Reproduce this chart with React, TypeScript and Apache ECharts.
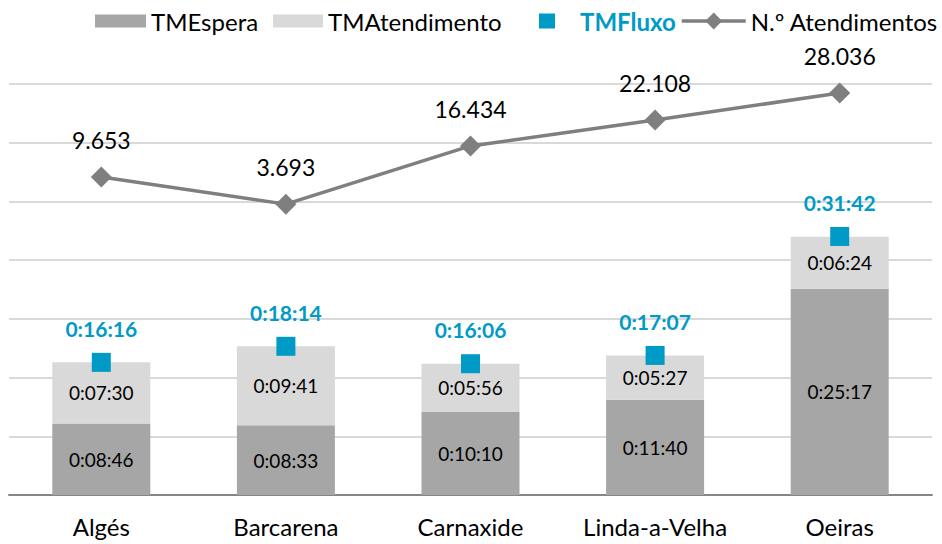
import React, { useEffect, useRef } from "react";
import * as echarts from "echarts";

const categories = ["Algés", "Barcarena", "Carnaxide", "Linda-a-Velha", "Oeiras"];
// seconds
const tmEspera = [526, 513, 610, 700, 1517];
const tmAtendimento = [450, 581, 356, 327, 384];
const tmFluxo = [976, 1094, 966, 1027, 1902];
const nAtendimentos = [9653, 3693, 16434, 22108, 28036];

const FONT = "Lato";
const BLUE = "#009ac6";

const pad = (n: number) => (n < 10 ? "0" + n : "" + n);
const fmtTime = (s: number) =>
  `${Math.floor(s / 3600)}:${pad(Math.floor((s % 3600) / 60))}:${pad(s % 60)}`;
const fmtNum = (n: number) => String(n).replace(/\B(?=(\d{3})+(?!\d))/g, ".");

export default function App() {
  const ref = useRef<HTMLDivElement>(null);
  useEffect(() => {
    const chart = echarts.init(ref.current!, null, { renderer: "svg" });
    const legendText = { fontFamily: FONT, fontSize: 24, color: "#000" };
    const legendBase = { top: 9, padding: 0 };
    chart.setOption({
      animation: false,
      textStyle: { fontFamily: FONT },
      legend: [
        {
          ...legendBase,
          data: ["TMEspera"],
          left: 95,
          itemWidth: 51,
          itemHeight: 13,
          icon: "rect",
          textStyle: legendText,
        },
        {
          ...legendBase,
          data: ["TMAtendimento"],
          left: 273,
          itemWidth: 50,
          itemHeight: 13,
          icon: "rect",
          textStyle: legendText,
        },
        {
          ...legendBase,
          data: ["TMFluxo"],
          left: 539,
          itemWidth: 16,
          itemHeight: 15,
          icon: "rect",
          itemStyle: { opacity: 1 },
          textStyle: { ...legendText, color: BLUE, fontWeight: "bold", padding: [0, 0, 0, 20] },
        },
        {
          ...legendBase,
          data: ["N.º Atendimentos"],
          left: 680,
          itemWidth: 64,
          itemHeight: 21,
          lineStyle: { width: 3.5, color: "#7f7f7f" },
          textStyle: legendText,
        },
      ],
      grid: { left: 9, right: 10, top: 84, bottom: 49, containLabel: false },
      xAxis: {
        type: "category",
        data: categories,
        axisTick: { show: false },
        axisLine: { lineStyle: { color: "#868686", width: 2 } },
        axisLabel: {
          interval: 0,
          hideOverlap: false,
          fontFamily: FONT,
          fontSize: 24,
          color: "#000",
          margin: 19,
        },
      },
      yAxis: [
        {
          type: "value",
          min: 0,
          max: 3024,
          interval: 432,
          axisLabel: { show: false },
          axisLine: { show: false },
          axisTick: { show: false },
          splitLine: { lineStyle: { color: "#d9d9d9", width: 2 } },
        },
        {
          type: "value",
          min: -60000,
          max: 30000,
          interval: 10000,
          show: false,
          splitLine: { show: false },
        },
      ],
      series: [
        {
          name: "TMEspera",
          type: "bar",
          stack: "tm",
          data: tmEspera,
          barWidth: 98,
          itemStyle: { color: "#a6a6a6" },
          label: {
            show: true,
            position: "inside",
            formatter: (p: any) => fmtTime(p.value),
            fontFamily: FONT,
            fontSize: 19,
            color: "#000",
          },
          z: 2,
        },
        {
          name: "TMAtendimento",
          type: "bar",
          stack: "tm",
          data: tmAtendimento,
          barWidth: 98,
          itemStyle: { color: "#d9d9d9" },
          label: {
            show: true,
            position: "inside",
            formatter: (p: any) => fmtTime(p.value),
            fontFamily: FONT,
            fontSize: 19,
            color: "#000",
          },
          z: 2,
        },
        {
          name: "TMFluxo",
          type: "scatter",
          data: tmFluxo,
          symbol: "rect",
          symbolSize: 19,
          itemStyle: { color: BLUE, opacity: 1 },
          label: {
            show: true,
            position: "top",
            distance: 14,
            formatter: (p: any) => fmtTime(p.value),
            fontFamily: FONT,
            fontSize: 21,
            fontWeight: "bold",
            color: BLUE,
          },
          z: 4,
        },
        {
          name: "N.º Atendimentos",
          type: "line",
          yAxisIndex: 1,
          data: nAtendimentos,
          symbol: "diamond",
          symbolSize: 21,
          lineStyle: { color: "#7f7f7f", width: 3.5 },
          itemStyle: { color: "#7f7f7f" },
          label: {
            show: true,
            position: "top",
            distance: 15,
            formatter: (p: any) => fmtNum(p.value),
            fontFamily: FONT,
            fontSize: 23,
            color: "#000",
          },
          z: 5,
        },
      ],
    });
    return () => chart.dispose();
  }, []);
  return (
    <div
      ref={ref}
      style={{ position: "fixed", left: 0, top: 0, width: 942, height: 544, background: "#fff" }}
    />
  );
}
